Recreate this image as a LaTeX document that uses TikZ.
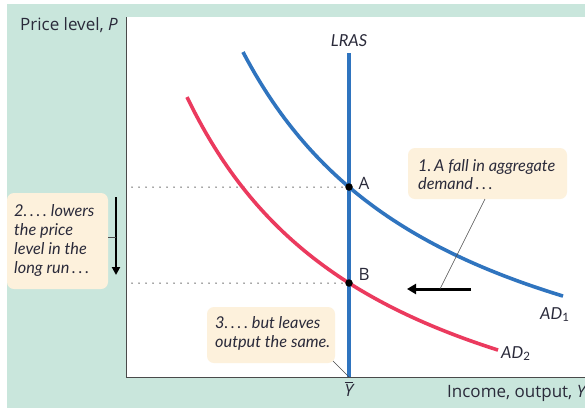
\documentclass[tikz,border=0pt]{standalone}
\usepackage{fontspec}
\setmainfont{Lato}
\newfontfamily\labfont{Open Sans}
\usetikzlibrary{arrows.meta}
\definecolor{bgteal}{HTML}{C9E6DC}
\definecolor{callfill}{HTML}{FDF1DC}
\definecolor{adblue}{HTML}{2F74BF}
\definecolor{adred}{HTML}{EB3A5E}
\definecolor{axisgray}{HTML}{4A4A4A}
\definecolor{txt}{HTML}{2A2A3A}
\tikzset{
  callbox/.style={fill=callfill, rounded corners=7pt, inner sep=0pt},
  calltext/.style={inner sep=0pt, align=left, anchor=base west,
     font=\fontsize{16.3}{19}\selectfont\itshape, text=txt},
  leader/.style={draw=axisgray, line width=0.6pt},
  curve/.style={line width=3.6pt},
  dotline/.style={draw=axisgray, line width=1.5pt, line cap=round, dash pattern=on 0pt off 7pt},
  lbl/.style={font=\labfont\fontsize{17}{19}\selectfont, text=txt, inner sep=0pt},
  ilbl/.style={font=\fontsize{16.5}{18}\selectfont\itshape, text=txt, inner sep=0pt},
  pt/.style={circle, fill=black, inner sep=0pt, minimum size=7.5pt},
  bigarrow/.style={line width=3pt, -{Triangle[length=9pt,width=10pt]}},
}
\begin{document}
\begin{tikzpicture}[x=1pt,y=-1pt]
\useasboundingbox (0,0) rectangle (585,408);
\fill[bgteal] (7,4) rectangle (585,408);
\fill[white] (126,17) rectangle (585,377);
% axes
\coordinate (O) at (126,377);
\coordinate (ytop) at (126,17);
\coordinate (xend) at (585,377);
\draw[axisgray, line width=1pt] (ytop) -- (O) -- (xend);
% dotted guides
\coordinate (Pa) at (126,187);
\coordinate (Pb) at (126,283);
\coordinate (A) at (349,187);
\coordinate (B) at (349,283);
\draw[dotline] (Pa) ++(6,0) -- (A);
\draw[dotline] (Pb) ++(6,0) -- (B);
% curves
\draw[curve, adred] plot[domain=187:498, samples=80] (\x, {512.9 - 832.54/((\x+13.2)/100)});
\draw[curve, adblue] plot[domain=243:563, samples=80] (\x, {458.7 - 867.4/((\x-29.7)/100)});
% LRAS
\coordinate (ltop) at (349,53);
\coordinate (lbot) at (349,377);
\draw[adblue, line width=4pt] (ltop) -- (lbot);
\node[ilbl] (lras) at (349,41) {LRAS};
% points
\node[pt] (Adot) at (A) {};
\node[pt] (Bdot) at (B) {};
\node[lbl] (Alab) at (364,183) {A};
\node[lbl] (Blab) at (364,274) {B};
% curve labels
\node[ilbl, anchor=base west] (ad1) at (540,319) {AD\textsubscript{\upshape 1}};
\node[ilbl, anchor=base west] (ad2) at (501,358) {AD\textsubscript{\upshape 2}};
% axis labels
\node[lbl, anchor=base east] (ylab) at (118,30) {Price level, \textit{P}};
\node[lbl, anchor=base west] (xlab) at (447,397) {Income, output, \textit{Y}};
\node[lbl] (ybar) at (349,389) {$\overline{\mbox{\labfont\itshape Y}}$};
% horizontal shift arrow
\coordinate (hs) at (471,289);
\coordinate (he) at (407,289);
\coordinate (hmid) at (440,289);
\draw[bigarrow] (hs) -- (he);
% vertical arrow
\coordinate (vs) at (116,197);
\coordinate (ve) at (116,275);
\coordinate (vmid) at (116,237);
\draw[line width=2.6pt, -{Triangle[length=8pt,width=8pt]}] (vs) -- (ve);
% callouts (text anchored at the baseline of the last line)
\node[callbox, minimum width=159pt, minimum height=51pt] (c1) at (487.5,173.5) {};
\node[calltext, font=\fontsize{16.3}{17.5}\selectfont\itshape] (t1) at (418,189) {1.\,A fall in aggregate\\demand\,.\,.\,.};
\node[callbox, minimum width=101pt, minimum height=96pt] (c2) at (57.5,241) {};
\node[calltext] (t2) at (14,273) {2.\,.\,.\,.\ lowers\\the price\\level in the\\long run\,.\,.\,.};
\node[callbox, minimum width=128pt, minimum height=56pt] (c3) at (271,335) {};
\node[calltext] (t3) at (215,347) {3.\,.\,.\,.\ but leaves\\output the same.};
% leaders
\coordinate (l1) at (485,199);
\draw[leader] (l1) -- (hmid);
\coordinate (l2) at (108,237);
\draw[leader] (l2) -- (vmid);
\coordinate (l3) at (333,361);
\draw[leader] (l3) -- (lbot);
\end{tikzpicture}
\end{document}
